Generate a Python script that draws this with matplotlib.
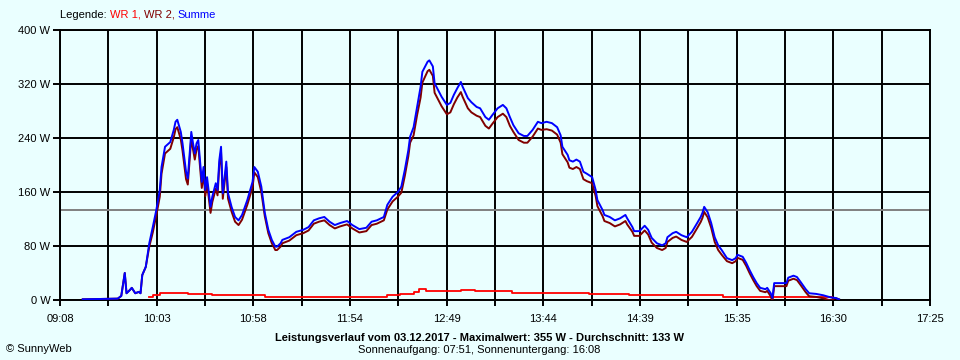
import numpy as np
import matplotlib.pyplot as plt

plt.rcParams['font.family'] = ['Liberation Sans', 'DejaVu Sans']

# Summe (blau), Zeit / Leistung in W
summe_zeit = ['09:21', '09:41', '09:43', '09:45', '09:46', '09:48', '09:49', '09:51', '09:53', '09:54',
              '09:55', '09:57', '09:59', '10:01', '10:03', '10:05', '10:06', '10:08', '10:11', '10:13',
              '10:14', '10:15', '10:17', '10:18', '10:20', '10:21', '10:23', '10:24', '10:25', '10:26',
              '10:27', '10:28', '10:29', '10:30', '10:31', '10:32', '10:34', '10:35', '10:37', '10:38',
              '10:39', '10:40', '10:41', '10:43', '10:44', '10:46', '10:48', '10:50', '10:52', '10:55',
              '10:58', '10:59', '11:01', '11:03', '11:05', '11:07', '11:09', '11:11', '11:12', '11:14',
              '11:15', '11:19', '11:23', '11:27', '11:30', '11:33', '11:36', '11:39', '11:42', '11:45',
              '11:48', '11:52', '11:55', '11:59', '12:03', '12:06', '12:09', '12:13', '12:15', '12:18',
              '12:21', '12:23', '12:25', '12:27', '12:28', '12:30', '12:32', '12:34', '12:35', '12:38',
              '12:39', '12:41', '12:42', '12:44', '12:46', '12:49', '12:51', '12:53', '12:55', '12:57',
              '12:58', '13:01', '13:03', '13:06', '13:08', '13:11', '13:13', '13:15', '13:18', '13:21',
              '13:23', '13:25', '13:27', '13:30', '13:33', '13:35', '13:38', '13:41', '13:43', '13:46',
              '13:49', '13:52', '13:54', '13:55', '13:58', '13:59', '14:01', '14:03', '14:05', '14:07',
              '14:09', '14:12', '14:14', '14:15', '14:18', '14:19', '14:22', '14:25', '14:28', '14:31',
              '14:32', '14:35', '14:36', '14:39', '14:42', '14:44', '14:46', '14:49', '14:52', '14:54',
              '14:55', '14:58', '15:00', '15:03', '15:06', '15:09', '15:12', '15:14', '15:15', '15:16',
              '15:18', '15:20', '15:22', '15:24', '15:26', '15:29', '15:32', '15:34', '15:35', '15:38',
              '15:40', '15:42', '15:44', '15:46', '15:48', '15:51', '15:52', '15:54', '15:55', '15:56',
              '15:59', '16:03', '16:04', '16:07', '16:09', '16:11', '16:14', '16:16', '16:20', '16:24',
              '16:28', '16:31', '16:33']
summe_w = [1, 2, 6, 40, 10, 15, 18, 10, 12, 10,
           37, 49, 84, 108, 133, 163, 197, 227, 234, 252,
           264, 267, 249, 232, 190, 180, 249, 232, 217, 232,
           237, 205, 175, 197, 163, 182, 138, 153, 173, 163,
           207, 227, 158, 205, 158, 138, 123, 118, 126, 148,
           175, 197, 190, 168, 129, 104, 89, 79, 79, 84,
           89, 93, 101, 104, 108, 118, 121, 123, 116, 111,
           114, 117, 111, 105, 107, 116, 118, 123, 141, 153,
           160, 168, 193, 222, 242, 256, 286, 316, 338, 353,
           355, 346, 321, 311, 301, 289, 292, 304, 314, 323,
           316, 299, 293, 286, 284, 271, 267, 274, 284, 289,
           284, 271, 259, 247, 243, 243, 252, 264, 262, 264,
           262, 256, 244, 227, 215, 207, 205, 208, 205, 190,
           187, 182, 163, 148, 133, 126, 123, 118, 121, 126,
           121, 108, 102, 102, 110, 104, 92, 84, 81, 84,
           93, 99, 101, 96, 93, 101, 114, 123, 129, 138,
           130, 114, 93, 81, 74, 62, 59, 62, 67, 64,
           55, 44, 34, 25, 18, 16, 18, 10, 3, 25,
           25, 25, 33, 36, 34, 27, 16, 10, 9, 7,
           4, 3, 1]

# WR 1 (rot)
wr1_zeit = ['09:59', '10:01', '10:05', '10:13', '10:21', '10:28', '10:35', '10:46', '10:58', '11:05',
            '12:15', '12:22', '12:30', '12:33', '12:37', '12:57', '13:05', '13:26', '13:45', '14:10',
            '14:33', '15:07', '15:20', '15:27', '16:29']
wr1_w = [5, 8, 10, 11, 9, 9, 8, 7, 8, 5,
         7, 9, 12, 16, 14, 15, 13, 10, 11, 9,
         7, 7.5, 7, 4.5, 4.5]

x_labels = ['09:08', '10:03', '10:58', '11:54', '12:49', '13:44', '14:39', '15:35', '16:30', '17:25']
y_ticks = [0, 80, 160, 240, 320, 400]
durchschnitt = 133
titel = 'Leistungsverlauf vom 03.12.2017 - Maximalwert: 355 W - Durchschnitt: 133 W'
sonne = 'Sonnenaufgang: 07:51, Sonnenuntergang: 16:08'


def minuten(s):
    h, m = s.split(':')
    return int(h) * 60 + int(m)


t_sum = np.array([minuten(s) for s in summe_zeit])
v_sum = np.array(summe_w, dtype=float)
t_wr1 = np.array([minuten(s) for s in wr1_zeit])
v_wr1 = np.array(wr1_w, dtype=float)

# WR 2 = Summe - WR 1 (jeweils aktueller Stufenwert von WR 1)
idx = np.searchsorted(t_wr1, t_sum, side='right') - 1
aktiv = (idx >= 0) & (t_sum <= t_wr1[-1])
wr2_w = v_sum - np.where(aktiv, v_wr1[np.clip(idx, 0, None)], 0)

bg = '#EAFFFF'
fig = plt.figure(figsize=(9.6, 3.6), dpi=100, facecolor=bg)
ax = fig.add_axes([0.0625, 0.1667, 0.90625, 0.75], facecolor=bg)

x0, x1 = minuten(x_labels[0]), minuten(x_labels[-1])
ax.set_xlim(x0, x1)
ax.set_ylim(0, 400)

xt = np.linspace(x0, x1, 2 * len(x_labels) - 1)
ax.set_xticks(xt)
ax.set_xticklabels([x_labels[i // 2] if i % 2 == 0 else '' for i in range(len(xt))])
ax.set_yticks(y_ticks)
ax.set_yticklabels(['%d W' % v for v in y_ticks])
ax.tick_params(axis='x', length=4, width=1.4, pad=6, labelsize=8)
ax.tick_params(axis='y', length=5, width=1.4, pad=2, labelsize=8)

ax.grid(True, color='black', linewidth=1.4)
ax.set_axisbelow(True)
for sp in ax.spines.values():
    sp.set_linewidth(1.4)

ax.axhline(durchschnitt, color='#808080', linewidth=1.4, zorder=1.5)

ax.plot(t_wr1, v_wr1, color='#FF0000', linewidth=1.3, drawstyle='steps-post', zorder=3)
ax.plot(t_sum, wr2_w, color='#800000', linewidth=1.4, zorder=3)
ax.plot(t_sum, v_sum, color='#0000FF', linewidth=1.4, zorder=4)

# Legende oben links
t = fig.text(0.0625, 0.945, 'Legende: ', color='black', fontsize=8, va='bottom')
for s, c in [('WR 1, ', '#FF0000'), ('WR 2, ', '#800000'), ('Summe', '#0000FF')]:
    t = ax.annotate(s, xy=(1, 0), xycoords=t, va='bottom', color=c, fontsize=8)

fig.text(0.499, 0.061, titel, ha='center', va='center', fontsize=8, fontweight='bold')
fig.text(0.499, 0.027, sonne, ha='center', va='center', fontsize=8)
fig.text(0.006, 0.030, '\u00a9 SunnyWeb', ha='left', va='center', fontsize=8)

fig.savefig('out.png', dpi=100, facecolor=bg)
